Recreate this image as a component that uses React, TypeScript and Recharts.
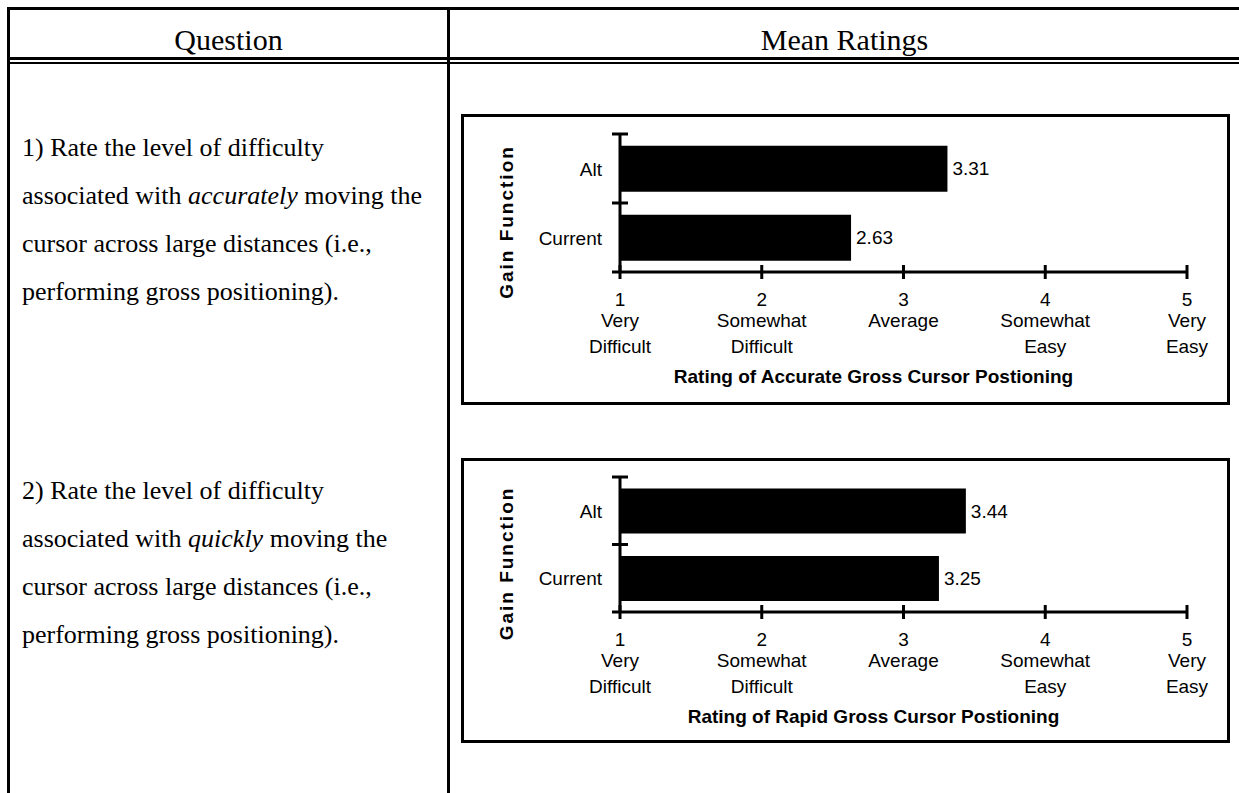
import { Bar, BarChart, LabelList, XAxis, YAxis } from "recharts";

const ratingTicks = [1, 2, 3, 4, 5];
const ratingWordsTop = ["Very", "Somewhat", "Average", "Somewhat", "Very"];
const ratingWordsBottom = ["Difficult", "Difficult", "", "Easy", "Easy"];

const gainFunctions = ["Alt", "Current"];
const accurateMeans = [3.31, 2.63];
const rapidMeans = [3.44, 3.25];

const accurateTitle = "Rating of Accurate Gross Cursor Postioning";
const rapidTitle = "Rating of Rapid Gross Cursor Postioning";

// *word* marks the italic word
const questionOne = [
  "1) Rate the level of difficulty",
  "associated with *accurately* moving the",
  "cursor across large distances (i.e.,",
  "performing gross positioning).",
];
const questionTwo = [
  "2) Rate the level of difficulty",
  "associated with *quickly* moving the",
  "cursor across large distances (i.e.,",
  "performing gross positioning).",
];

const sans = "'Liberation Sans', Arial, Helvetica, sans-serif";
const serif = "'Liberation Serif', 'Times New Roman', serif";

function RatingTick({ x, y, payload }: any) {
  const i = ratingTicks.indexOf(payload.value);
  const text = { textAnchor: "middle" as const, fill: "#000", fontSize: 19, fontFamily: sans };
  return (
    <g>
      <line x1={x} x2={x} y1={y - 7} y2={y + 7} stroke="#000" strokeWidth={3} />
      <text x={x} y={y + 34} {...text}>{payload.value}</text>
      <text x={x} y={y + 55} {...text}>{ratingWordsTop[i]}</text>
      <text x={x} y={y + 81} {...text}>{ratingWordsBottom[i]}</text>
    </g>
  );
}

// category label plus the cross marks at the band edges of the y axis
function GainTick({ x, y, payload, index, halfBand }: any) {
  const axisX = x + 18;
  const last = index === gainFunctions.length - 1;
  return (
    <g>
      <line x1={axisX - 8} x2={axisX + 8} y1={y - halfBand} y2={y - halfBand} stroke="#000" strokeWidth={3} />
      {last && <line x1={axisX - 8} x2={axisX} y1={y + halfBand} y2={y + halfBand} stroke="#000" strokeWidth={3} />}
      <text x={x} y={y} dy={7} textAnchor="end" fill="#000" fontSize={19} fontFamily={sans}>
        {payload.value}
      </text>
    </g>
  );
}

function AxisTitle({ viewBox, text }: any) {
  const vb = viewBox ?? { x: 0, y: 0, width: 0, height: 0 };
  return (
    <text x={vb.x + vb.width / 2 - 30} y={vb.y + 111} textAnchor="middle" fill="#000"
      fontSize={19} fontWeight="bold" fontFamily={sans}>
      {text}
    </text>
  );
}

function GainLabel({ viewBox }: any) {
  const vb = viewBox ?? { x: 0, y: 0, width: 0, height: 0 };
  const x = vb.x + 52;
  const y = vb.y + vb.height / 2 + 19;
  return (
    <text x={x} y={y} transform={`rotate(-90, ${x}, ${y})`} textAnchor="middle" fill="#000"
      fontSize={19} fontWeight="bold" letterSpacing={2} fontFamily={sans}>
      Gain Function
    </text>
  );
}

function RatingChart({ top, height, plotTop, axisArea, means, title }: {
  top: number; height: number; plotTop: number; axisArea: number; means: number[]; title: string;
}) {
  const data = gainFunctions.map((name, i) => ({ name, mean: means[i] }));
  const halfBand = (height - plotTop - axisArea) / gainFunctions.length / 2;
  return (
    <>
      <div style={{ position: "absolute", left: 461, top, width: 769, height, border: "3px solid #000", boxSizing: "border-box" }} />
      <div style={{ position: "absolute", left: 461, top }}>
        <BarChart width={769} height={height} data={data} layout="vertical" barCategoryGap="17%"
          margin={{ top: plotTop, right: 43, bottom: 0, left: 0 }}>
          <XAxis type="number" dataKey="mean" domain={[1, 5]} ticks={ratingTicks} allowDataOverflow interval={0}
            height={axisArea} axisLine={{ stroke: "#000", strokeWidth: 3 }} tickLine={false} tickSize={0} tickMargin={0}
            tick={<RatingTick />} label={<AxisTitle text={title} />} />
          <YAxis type="category" dataKey="name" width={159} axisLine={{ stroke: "#000", strokeWidth: 3 }}
            tickLine={false} tickSize={0} tickMargin={18} interval={0}
            tick={<GainTick halfBand={halfBand} />} label={<GainLabel />} />
          <Bar dataKey="mean" fill="#000" isAnimationActive={false}>
            <LabelList dataKey="mean" position="right" offset={5} fill="#000" fontSize={19} fontFamily={sans}
              formatter={(v: any) => Number(v).toFixed(2)} />
          </Bar>
        </BarChart>
      </div>
    </>
  );
}

function QuestionText({ top, lines }: { top: number; lines: string[] }) {
  return (
    <div style={{ position: "absolute", left: 22, top, fontFamily: serif, fontSize: 26, lineHeight: "48px", whiteSpace: "nowrap", color: "#000" }}>
      {lines.map((line, i) => (
        <div key={i}>
          {line.split("*").map((part, j) => (j % 2 ? <i key={j}>{part}</i> : <span key={j}>{part}</span>))}
        </div>
      ))}
    </div>
  );
}

const rule = (left: number, top: number, width: number, height: number) => (
  <div style={{ position: "absolute", left, top, width, height, background: "#000" }} />
);

export default function App() {
  return (
    <div style={{ position: "absolute", left: 0, top: 0, width: 1239, height: 793, background: "#fff", overflow: "hidden" }}>
      {rule(8, 7, 1231, 3)}
      {rule(7, 7, 3, 786)}
      {rule(447, 7, 3, 786)}
      {rule(8, 57, 1231, 3)}
      {rule(8, 62, 1231, 2)}
      <div style={{ position: "absolute", left: 10, top: 20, width: 437, textAlign: "center", fontFamily: serif, fontSize: 30, lineHeight: "40px" }}>
        Question
      </div>
      <div style={{ position: "absolute", left: 450, top: 20, width: 789, textAlign: "center", fontFamily: serif, fontSize: 30, lineHeight: "40px" }}>
        Mean Ratings
      </div>
      <QuestionText top={124} lines={questionOne} />
      <QuestionText top={467} lines={questionTwo} />
      <RatingChart top={114} height={291} plotTop={20} axisArea={133} means={accurateMeans} title={accurateTitle} />
      <RatingChart top={458} height={285} plotTop={19} axisArea={131} means={rapidMeans} title={rapidTitle} />
    </div>
  );
}
